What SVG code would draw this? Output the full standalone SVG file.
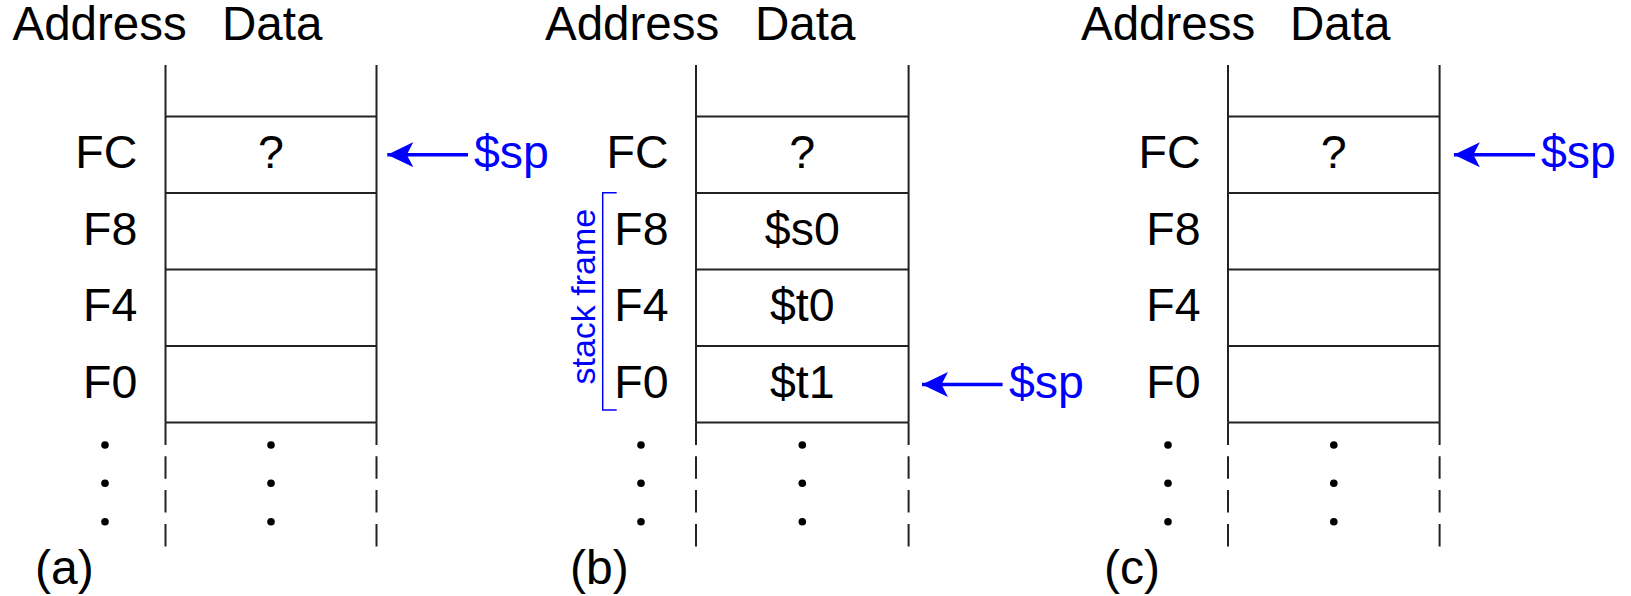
<svg xmlns="http://www.w3.org/2000/svg" width="1631" height="596" viewBox="0 0 1631 596">
<style>
text{font-family:"Liberation Sans",Arial,sans-serif;fill:#000;}
.hd{font-size:47.5px;}
.lb{font-size:46.5px;}
.pl{font-size:48px;}
.r{text-anchor:end;}
.m{text-anchor:middle;}
.blue{fill:#0000ff;}
.col{stroke:#222;stroke-width:2;fill:none;}
.dash{stroke:#222;stroke-width:2;fill:none;stroke-dasharray:22.5 11.3;}
.ptr{stroke:#0000ff;stroke-width:3.5;fill:none;marker-end:url(#ah);}
.dot{fill:#000;}
</style>
<defs>
<marker id="ah" markerUnits="userSpaceOnUse" markerWidth="28" markerHeight="28" refX="26" refY="13" orient="auto" viewBox="0 0 28 26">
<path d="M26,13 L0,0.5 L6.5,13 L0,25.5 Z" fill="#0000ff"/>
</marker>
</defs>

<g id="panel-a">
<text class="hd" x="12.5" y="40">Address</text>
<text class="hd" x="222" y="40">Data</text>
<g id="a-column">
<path class="col" d="M165.5,65 V422.5 M376.5,65 V422.5 M165.5,116.5 H376.5 M165.5,193 H376.5 M165.5,269.5 H376.5 M165.5,346 H376.5 M165.5,422.5 H376.5"/>
<path class="dash" d="M165.5,422.5 V547 M376.5,422.5 V547"/>
</g>
<g id="a-FC"><text class="lb r" x="137.3" y="168">FC</text><text class="lb m" x="271" y="168">?</text></g>
<g id="a-F8"><text class="lb r" x="137.3" y="244.5">F8</text></g>
<g id="a-F4"><text class="lb r" x="137.3" y="321">F4</text></g>
<g id="a-F0"><text class="lb r" x="137.3" y="397.5">F0</text></g>
<g id="a-dots"><circle class="dot" cx="105" cy="445" r="3.8"/><circle class="dot" cx="105" cy="483.3" r="3.8"/><circle class="dot" cx="105" cy="521.7" r="3.8"/><circle class="dot" cx="271" cy="445" r="3.8"/><circle class="dot" cx="271" cy="483.3" r="3.8"/><circle class="dot" cx="271" cy="521.7" r="3.8"/></g>
<g id="a-sp"><text class="lb blue" x="474" y="168">$sp</text></g>
<text class="pl" x="35" y="584">(a)</text>
</g>

<g id="panel-b">
<text class="hd" x="545" y="40">Address</text>
<text class="hd" x="755" y="40">Data</text>
<g id="b-column">
<path class="col" d="M696,65 V422.5 M908.6,65 V422.5 M696,116.5 H908.6 M696,193 H908.6 M696,269.5 H908.6 M696,346 H908.6 M696,422.5 H908.6"/>
<path class="dash" d="M696,422.5 V547 M908.6,422.5 V547"/>
</g>
<g id="b-FC"><text class="lb r" x="668.6" y="168">FC</text><text class="lb m" x="802.3" y="168">?</text></g>
<g id="b-F8"><text class="lb r" x="668.6" y="244.5">F8</text><text class="lb m" x="802.3" y="244.5">$s0</text></g>
<g id="b-F4"><text class="lb r" x="668.6" y="321">F4</text><text class="lb m" x="802.3" y="321">$t0</text></g>
<g id="b-F0"><text class="lb r" x="668.6" y="397.5">F0</text><text class="lb m" x="802.3" y="397.5">$t1</text></g>
<g id="b-dots"><circle class="dot" cx="641" cy="445" r="3.8"/><circle class="dot" cx="641" cy="483.3" r="3.8"/><circle class="dot" cx="641" cy="521.7" r="3.8"/><circle class="dot" cx="802.3" cy="445" r="3.8"/><circle class="dot" cx="802.3" cy="483.3" r="3.8"/><circle class="dot" cx="802.3" cy="521.7" r="3.8"/></g>
<g id="b-stackframe">
<path d="M616.7,192.7 H602.7 V410 H616.7" stroke="#0000ff" stroke-width="1.5" fill="none"/>
<text class="blue m" font-size="34" transform="translate(595,296.7) rotate(-90)">stack frame</text>
</g>
<g id="b-sp"><text class="lb blue" x="1009" y="397.5">$sp</text></g>
<text class="pl" x="570" y="584">(b)</text>
</g>

<g id="panel-c">
<text class="hd" x="1081" y="40">Address</text>
<text class="hd" x="1290" y="40">Data</text>
<g id="c-column">
<path class="col" d="M1228,65 V422.5 M1439.6,65 V422.5 M1228,116.5 H1439.6 M1228,193 H1439.6 M1228,269.5 H1439.6 M1228,346 H1439.6 M1228,422.5 H1439.6"/>
<path class="dash" d="M1228,422.5 V547 M1439.6,422.5 V547"/>
</g>
<g id="c-FC"><text class="lb r" x="1200.6" y="168">FC</text><text class="lb m" x="1333.8" y="168">?</text></g>
<g id="c-F8"><text class="lb r" x="1200.6" y="244.5">F8</text></g>
<g id="c-F4"><text class="lb r" x="1200.6" y="321">F4</text></g>
<g id="c-F0"><text class="lb r" x="1200.6" y="397.5">F0</text></g>
<g id="c-dots"><circle class="dot" cx="1168" cy="445" r="3.8"/><circle class="dot" cx="1168" cy="483.3" r="3.8"/><circle class="dot" cx="1168" cy="521.7" r="3.8"/><circle class="dot" cx="1333.8" cy="445" r="3.8"/><circle class="dot" cx="1333.8" cy="483.3" r="3.8"/><circle class="dot" cx="1333.8" cy="521.7" r="3.8"/></g>
<g id="c-sp"><text class="lb blue" x="1541" y="168">$sp</text></g>
<text class="pl" x="1104" y="584">(c)</text>
</g>

<g id="connectors">
<path class="ptr" d="M468,154.7 H387.3"/>
<path class="ptr" d="M1002.6,384.5 H922"/>
<path class="ptr" d="M1535,154.7 H1453.9"/>
</g>
</svg>
